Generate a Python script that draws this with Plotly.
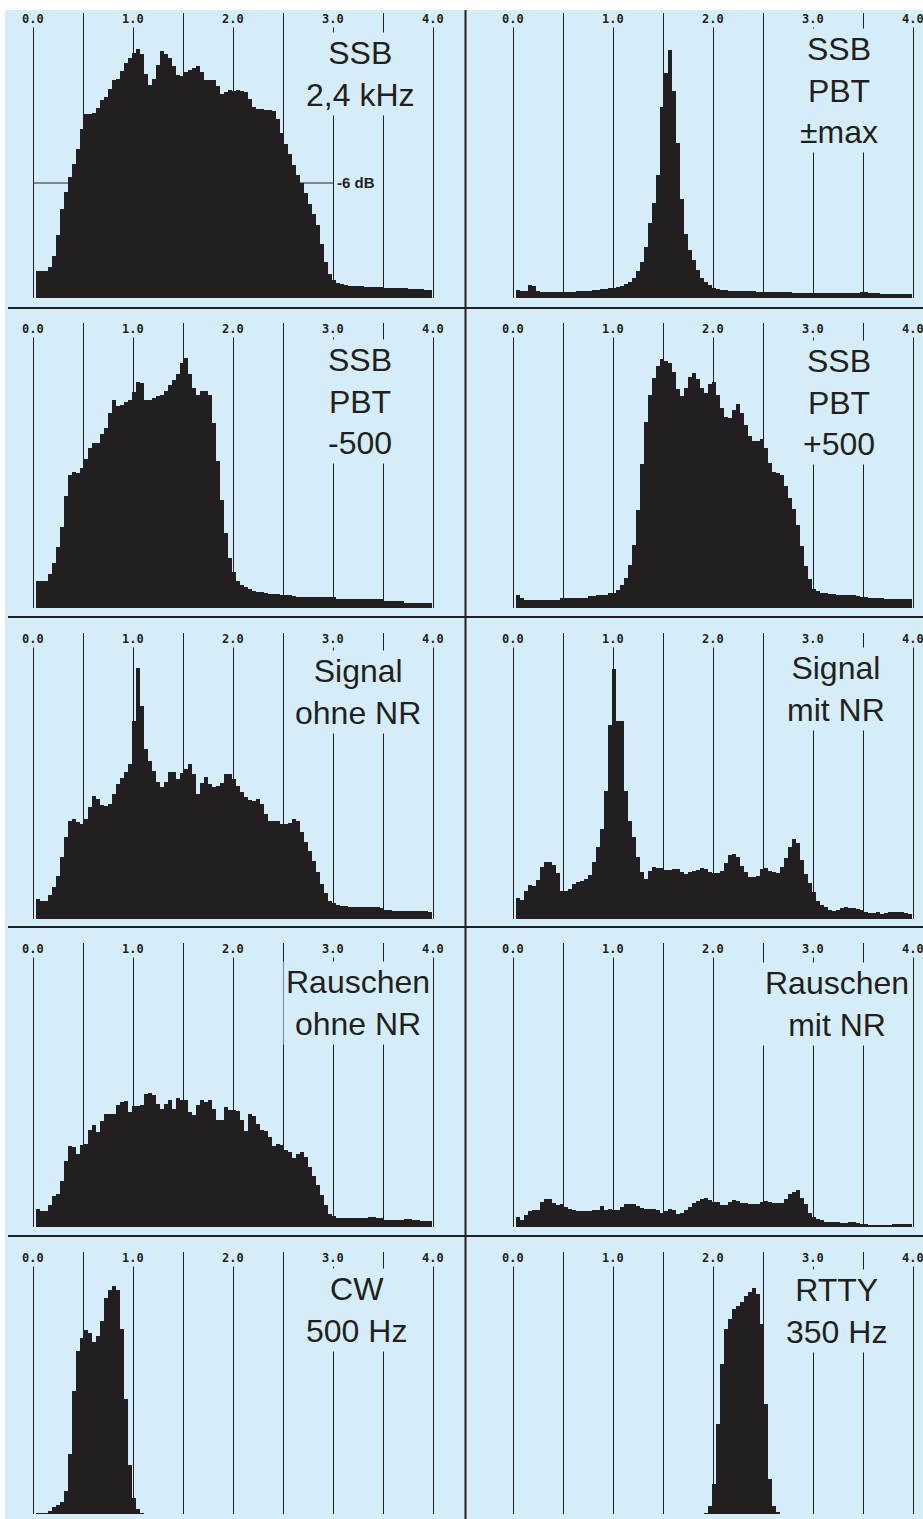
import plotly.graph_objects as go

W, H = 923, 1519
BLUE = "#d5edf9"
INK = "#231f20"

# bin centres of the analyser (kHz), 40 Hz wide bins
freq_khz = [round(0.05 + 0.04 * i, 2) for i in range(99)]
tick_pos = [0, 1, 2, 3, 4]
tick_labels = ["0.0", "1.0", "2.0", "3.0", "4.0"]

# levels (pixel-ish units above baseline)
ssb_24 = [27, 27, 27, 31, 42, 63, 89, 106, 121, 134,
          149, 169, 184, 184, 185, 190, 198, 201, 209, 218,
          219, 227, 235, 240, 245, 249, 244, 224, 213, 219,
          233, 247, 244, 240, 232, 223, 222, 226, 228, 230,
          232, 226, 218, 218, 218, 212, 204, 206, 208, 207,
          208, 207, 206, 199, 191, 189, 189, 188, 188, 187,
          179, 165, 154, 144, 133, 123, 115, 105, 94, 84,
          73, 54, 36, 24, 18, 15, 14, 13, 12, 12,
          12, 12, 11, 11, 11, 11, 11, 10, 10, 10,
          10, 10, 10, 9, 9, 9, 9, 8, 8]

pbt_max = [8, 7, 7, 13, 12, 7, 6, 6, 6, 6,
           6, 6, 6, 6, 6, 7, 7, 7, 7, 8,
           8, 9, 9, 10, 10, 11, 12, 14, 16, 20,
           27, 36, 51, 75, 95, 123, 191, 225, 248, 207,
           155, 99, 64, 48, 38, 28, 20, 16, 13, 10,
           9, 8, 8, 7, 7, 7, 7, 7, 7, 7,
           6, 6, 6, 6, 6, 6, 6, 6, 6, 5,
           5, 5, 5, 5, 5, 5, 5, 5, 5, 5,
           5, 5, 5, 5, 5, 5, 6, 6, 5, 5,
           5, 4, 4, 4, 4, 4, 4, 4, 4]

pbt_m500 = [27, 27, 27, 34, 45, 61, 81, 112, 133, 136,
            135, 140, 149, 160, 165, 165, 174, 180, 195, 208,
            202, 203, 206, 208, 216, 226, 225, 208, 208, 210,
            212, 213, 217, 223, 228, 234, 245, 250, 234, 220,
            213, 217, 217, 213, 185, 147, 108, 75, 50, 36,
            27, 23, 21, 19, 17, 16, 16, 15, 14, 14,
            14, 13, 13, 13, 12, 11, 11, 11, 11, 11,
            11, 11, 11, 11, 11, 9, 9, 9, 9, 9,
            9, 9, 9, 9, 9, 9, 9, 7, 7, 7,
            7, 7, 5, 5, 5, 5, 5, 5, 5]

pbt_p500 = [13, 10, 8, 8, 8, 8, 8, 8, 8, 8,
            8, 10, 10, 10, 10, 10, 10, 10, 12, 12,
            13, 13, 13, 15, 15, 18, 23, 30, 43, 63,
            98, 144, 186, 213, 230, 242, 249, 247, 245, 236,
            219, 212, 220, 231, 235, 229, 220, 215, 224, 226,
            213, 200, 191, 190, 198, 204, 195, 183, 172, 167,
            167, 169, 160, 145, 136, 135, 133, 122, 110, 99,
            83, 62, 42, 29, 19, 17, 15, 15, 14, 14,
            13, 13, 13, 13, 13, 12, 11, 11, 10, 10,
            10, 10, 9, 9, 9, 9, 9, 9, 9]

sig_off = [20, 18, 18, 24, 32, 43, 62, 82, 98, 100,
           97, 95, 100, 112, 123, 120, 114, 113, 115, 125,
           135, 141, 147, 155, 198, 251, 213, 170, 158, 148,
           137, 132, 137, 147, 147, 140, 146, 150, 155, 145,
           125, 136, 142, 135, 132, 133, 136, 145, 145, 140,
           133, 127, 122, 119, 118, 120, 115, 105, 98, 98,
           98, 95, 95, 96, 100, 98, 87, 77, 68, 58,
           47, 35, 26, 18, 16, 14, 13, 13, 12, 12,
           12, 12, 12, 12, 12, 12, 11, 9, 9, 8,
           8, 8, 8, 8, 8, 8, 8, 8, 7]

sig_on = [21, 19, 28, 34, 33, 39, 52, 57, 57, 54,
          46, 28, 28, 30, 35, 37, 38, 40, 44, 57,
          72, 90, 128, 194, 250, 198, 198, 128, 98, 82,
          62, 47, 40, 48, 52, 51, 51, 49, 49, 50,
          50, 47, 45, 47, 48, 49, 51, 50, 47, 46,
          46, 48, 56, 64, 65, 62, 53, 47, 42, 42,
          43, 50, 51, 48, 47, 46, 52, 61, 72, 80,
          76, 59, 45, 36, 27, 18, 14, 12, 9, 8,
          9, 11, 12, 11, 11, 10, 9, 7, 6, 6,
          7, 5, 6, 7, 7, 7, 7, 6, 5]

noise_off = [18, 16, 16, 22, 31, 33, 46, 66, 81, 80,
             73, 82, 83, 97, 102, 95, 106, 113, 113, 113,
             122, 125, 126, 115, 121, 121, 122, 133, 134, 132,
             123, 118, 123, 127, 118, 129, 127, 127, 115, 112,
             122, 127, 125, 127, 118, 107, 107, 120, 117, 117,
             116, 107, 96, 113, 111, 103, 97, 96, 90, 81,
             83, 82, 77, 75, 69, 73, 75, 70, 60, 51,
             42, 32, 22, 13, 11, 9, 9, 9, 9, 9,
             9, 9, 9, 10, 10, 9, 9, 7, 7, 7,
             7, 7, 8, 8, 7, 7, 6, 6, 6]

noise_on = [10, 7, 12, 16, 17, 17, 25, 28, 28, 24,
            22, 23, 20, 18, 17, 16, 16, 16, 16, 17,
            17, 21, 17, 18, 17, 17, 20, 23, 23, 23,
            21, 19, 18, 18, 18, 17, 14, 16, 18, 17,
            13, 14, 17, 20, 24, 26, 28, 29, 27, 25,
            25, 22, 22, 25, 27, 26, 24, 24, 23, 23,
            23, 25, 26, 25, 24, 24, 24, 28, 33, 35,
            37, 29, 23, 14, 10, 8, 7, 5, 5, 5,
            5, 4, 4, 5, 5, 4, 3, 3, 2, 2,
            2, 2, 2, 2, 3, 3, 3, 3, 3]

cw_500 = [1, 1, 1, 3, 7, 9, 12, 23, 60, 123,
          163, 176, 184, 181, 172, 178, 193, 216, 224, 228,
          224, 185, 115, 49, 16, 5, 1] + [0] * 72

rtty_350 = [0] * 47 + [1, 8, 30, 90, 150, 185, 195, 205, 208, 212,
                       218, 222, 226, 220, 190, 110, 35, 8, 2] + [0] * 33

series = [ssb_24, pbt_max, pbt_m500, pbt_p500, sig_off,
          sig_on, noise_off, noise_on, cw_500, rtty_350]
titles = ["SSB<br>2,4 kHz", "SSB<br>PBT<br>±max", "SSB<br>PBT<br>-500",
          "SSB<br>PBT<br>+500", "Signal<br>ohne NR", "Signal<br>mit NR",
          "Rauschen<br>ohne NR", "Rauschen<br>mit NR", "CW<br>500 Hz",
          "RTTY<br>350 Hz"]

# layout geometry in pixels
rows_px = [(13, 298), (323, 608), (633, 919), (943, 1227), (1252, 1514)]
cols_px = [(5, 465, -0.28, 4.32), (467, 923, -0.46, 4.10)]
title_pos = [(3.27, 224), (3.26, 207), (3.27, 206), (3.26, 205), (3.25, 227),
             (3.23, 230), (3.25, 224), (3.24, 223), (3.23, 204), (3.23, 203)]

fig = go.Figure()
annotations = []
shapes = [
    dict(type="rect", xref="paper", yref="paper", x0=5 / W, x1=1, y0=0, y1=1 - 10 / H,
         fillcolor=BLUE, line=dict(width=0), layer="below"),
    dict(type="line", xref="paper", yref="paper", x0=465.5 / W, x1=465.5 / W,
         y0=0, y1=1 - 10 / H, line=dict(color=INK, width=2)),
]
for ypx in [308, 617, 927, 1236]:
    shapes.append(dict(type="line", xref="paper", yref="paper", x0=8 / W, x1=1,
                       y0=1 - ypx / H, y1=1 - ypx / H, line=dict(color=INK, width=2)))

layout = dict(width=W, height=H, margin=dict(l=0, r=0, t=0, b=0),
              paper_bgcolor="white", plot_bgcolor="rgba(0,0,0,0)",
              showlegend=False, bargap=0)

for k, vals in enumerate(series):
    r, c = divmod(k, 2)
    top, base = rows_px[r]
    x0, x1, lo, hi = cols_px[c]
    sfx = "" if k == 0 else str(k + 1)
    hpx = base - top
    layout["xaxis" + sfx] = dict(domain=[x0 / W, x1 / W], range=[lo, hi], anchor="y" + sfx,
                                 showgrid=True, gridcolor=INK, gridwidth=1, tick0=0, dtick=0.5,
                                 zeroline=False, showticklabels=False, ticks="", showline=False)
    layout["yaxis" + sfx] = dict(domain=[1 - base / H, 1 - top / H], range=[0, hpx],
                                 anchor="x" + sfx, visible=False)

    fig.add_trace(go.Bar(x=freq_khz, y=vals, width=0.04, xaxis="x" + sfx, yaxis="y" + sfx,
                         marker=dict(color=INK, line=dict(width=0)), hoverinfo="skip"))

    for pos, lab in zip(tick_pos, tick_labels):
        annotations.append(dict(x=pos, y=hpx - 6, xref="x" + sfx, yref="y" + sfx, text=lab,
                                showarrow=False, bgcolor=BLUE, borderpad=1,
                                font=dict(family="DejaVu Sans Mono", size=12, color=INK,
                                          weight="bold")))
    tx, ty = title_pos[k]
    annotations.append(dict(x=tx, y=ty, xref="x" + sfx, yref="y" + sfx, text=titles[k],
                            showarrow=False, bgcolor=BLUE, borderpad=2, align="center",
                            font=dict(family="Liberation Sans, Arial, sans-serif", size=32,
                                      color=INK)))

# -6 dB marker in the first panel
shapes.append(dict(type="line", xref="x", yref="y", x0=0, x1=3.0, y0=115, y1=115,
                   line=dict(color=INK, width=1), layer="below"))
annotations.append(dict(x=3.02, y=115, xref="x", yref="y", text="-6 dB", xanchor="left",
                        showarrow=False,
                        font=dict(family="Liberation Sans, Arial, sans-serif", size=15,
                                  color=INK, weight="bold")))

layout["shapes"] = shapes
layout["annotations"] = annotations
fig.update_layout(**layout)
fig.write_html("out.html", config={"displayModeBar": False},
               post_script="document.body.style.margin='0';document.body.style.overflow='hidden';")
